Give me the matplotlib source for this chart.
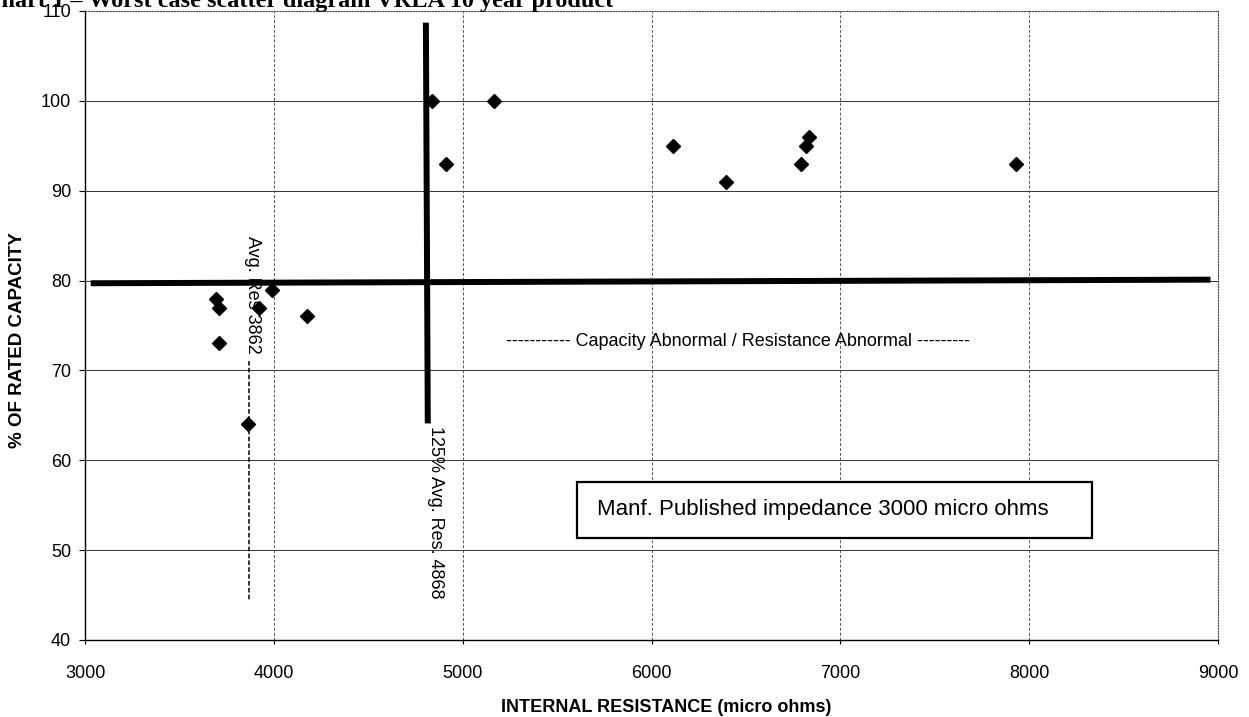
import matplotlib
matplotlib.use('Agg')
import matplotlib.pyplot as plt
from matplotlib.patches import Rectangle

plt.rcParams['font.family'] = ['Liberation Sans', 'DejaVu Sans']

# scatter values
resistance = [3692, 3711, 3710, 3922, 3992, 4176, 3863,
              4838, 4912, 5168, 6114, 6395, 6791, 6819, 6836, 7929]
capacity = [78, 77, 73, 77, 79, 76, 64,
            100, 93, 100, 95, 91, 93, 95, 96, 93]

# reference lines
cap_limit_x = [3030, 8960]
cap_limit_y = [79.7, 80.1]
res_limit_x = [4805, 4815]
res_limit_y = [108.7, 64.1]
avg_res_x = [3870, 3870]
avg_res_y = [71.0, 44.3]

x_ticks = [3000, 4000, 5000, 6000, 7000, 8000, 9000]
y_ticks = [40, 50, 60, 70, 80, 90, 100, 110]

title = "Chart 1 \u2013 Worst case scatter diagram VRLA 10 year product"
note = "Manf. Published impedance 3000 micro ohms"

fig = plt.figure(figsize=(12.49, 7.17), dpi=100)
ax = fig.add_axes([0.0681, 0.1074, 0.9071, 0.8773])

ax.set_xlim(3000, 9000)
ax.set_ylim(40, 110)
ax.set_xticks(x_ticks)
ax.set_yticks(y_ticks)
ax.tick_params(axis='y', direction='out', length=4, width=0.8, pad=6, labelsize=13)
ax.tick_params(axis='x', direction='out', length=3, width=0.8, pad=15, labelsize=13)

# gridlines: solid horizontal, dashed vertical
for v in y_ticks[1:-1]:
    ax.axhline(v, color='#333333', lw=0.7, zorder=1)
for v in x_ticks[1:-1]:
    ax.axvline(v, color='#555555', lw=0.7, ls=(0, (3, 2)), zorder=1)

for s in ['top', 'right']:
    ax.spines[s].set_linestyle((0, (1, 1.5)))
    ax.spines[s].set_color('#444444')
    ax.spines[s].set_linewidth(0.8)
for s in ['left', 'bottom']:
    ax.spines[s].set_color('black')
    ax.spines[s].set_linewidth(1.0)

ax.plot(cap_limit_x, cap_limit_y, color='black', lw=4.3, solid_capstyle='butt', zorder=3)
ax.plot(res_limit_x, res_limit_y, color='black', lw=4.3, solid_capstyle='butt', zorder=3)
ax.plot(avg_res_x, avg_res_y, color='black', lw=1.1, ls=(0, (3, 1.5)), zorder=3)

ax.plot(resistance, capacity, ls='none', marker='D', markersize=7,
        color='black', zorder=4)

ax.text(3885, 78.4, "Avg. Res 3862", rotation=270, ha='center', va='center',
        fontsize=13, zorder=2)
ax.text(4854, 54.2, "125% Avg. Res. 4868", rotation=270, ha='center', va='center',
        fontsize=13, zorder=2)
ax.text(6456, 73.2, "----------- Capacity Abnormal / Resistance Abnormal ---------",
        ha='center', va='center', fontsize=13, zorder=2)

box = Rectangle((5606, 51.3), 8334 - 5606, 57.6 - 51.3, facecolor='white',
                edgecolor='black', lw=1.6, zorder=5)
ax.add_patch(box)
ax.text(5712, 54.5, note, ha='left', va='center', fontsize=16, zorder=6)

fig.text(666 / 1249, 1 - 707 / 717, "INTERNAL RESISTANCE (micro ohms)",
         ha='center', va='center', fontsize=13, fontweight='bold')
fig.text(18 / 1249, 1 - 340 / 717, "% OF RATED CAPACITY", rotation=90,
         ha='center', va='center', fontsize=13.5, fontweight='bold')

# scanned page header, cut off at the top edge
fig.text(-0.013, 1 - 7 / 717, title, ha='left', va='baseline',
         fontsize=17.5, fontweight='bold', family='Liberation Serif')

fig.savefig('out.png', dpi=100)
